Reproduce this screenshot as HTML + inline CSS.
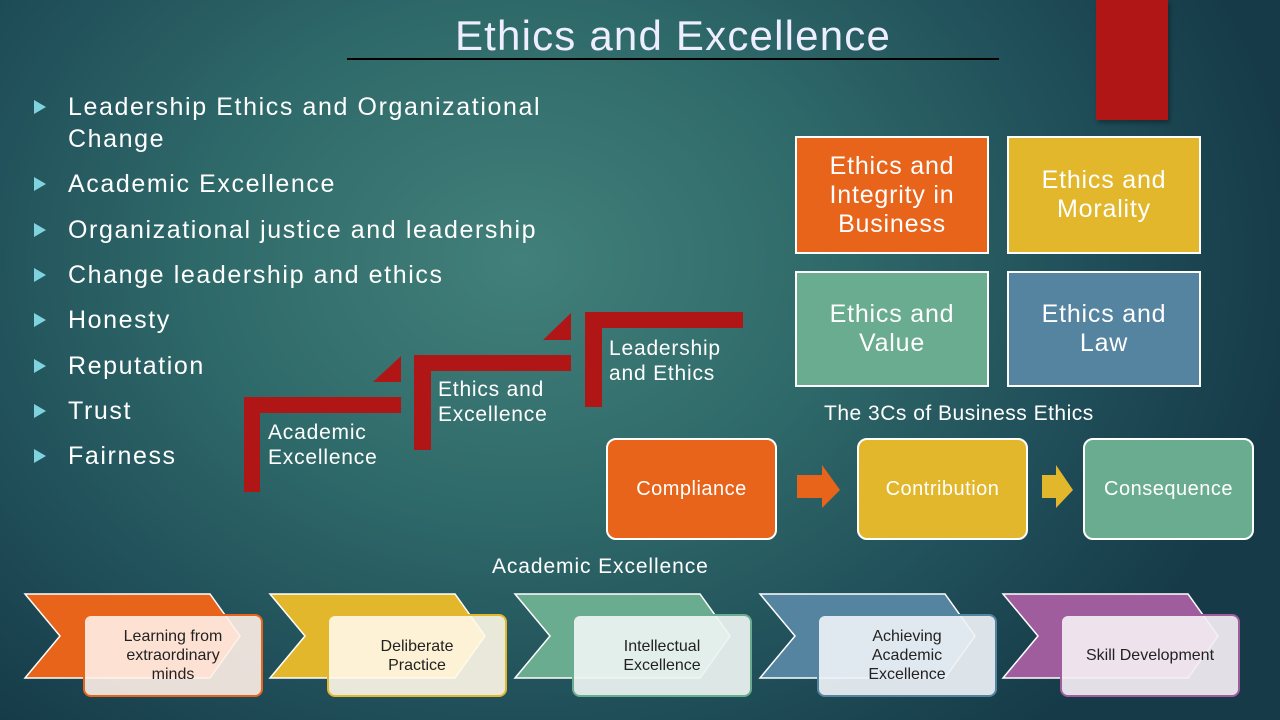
<!DOCTYPE html>
<html><head><meta charset="utf-8"><style>
*{margin:0;padding:0;box-sizing:border-box}
body{width:1280px;height:720px;overflow:hidden;font-family:"Liberation Sans",sans-serif;color:#fff;position:relative;
background:radial-gradient(ellipse 780px 620px at 520px 260px,#42807a 0%,#2f6a6a 40%,#1f4d58 75%,#163a48 100%)}
.a{position:absolute}
.box{position:absolute;border:2px solid #fff;display:flex;align-items:center;justify-content:center;text-align:center;font-size:25px;line-height:29px;letter-spacing:.8px}
.bul{position:absolute;left:34px;font-size:25px;line-height:32px;letter-spacing:1.6px}
.bul span.t{position:absolute;left:0;top:9px;width:0;height:0;border-top:7px solid transparent;border-bottom:7px solid transparent;border-left:12px solid #7fd3df}
.bul div{margin-left:34px}
.c3{position:absolute;border:2px solid #fff;border-radius:10px;display:flex;align-items:center;justify-content:center;font-size:20px;top:438px;height:102px;width:171px;letter-spacing:.5px}
.lbl{position:absolute;border-radius:8px;border:2px solid;display:flex;align-items:center;justify-content:center;text-align:center;font-size:16px;line-height:19px;color:#222;width:180px;height:83px;top:614px}
.st{font-size:21px;line-height:25px;letter-spacing:.8px}
</style></head><body>
<div class="a" style="left:348px;top:12px;width:650px;text-align:center;font-size:42px;color:#eef;letter-spacing:1.2px">Ethics and Excellence</div>
<div class="a" style="left:347px;top:58px;width:652px;height:2px;background:#000"></div>
<div class="a" style="left:1096px;top:0;width:72px;height:120px;background:#b01616;box-shadow:2px 3px 4px rgba(0,0,0,.3)"></div>

<div>
<div class="bul" style="top:91px"><span class="t"></span><div>Leadership Ethics and Organizational<br>Change</div></div>
<div class="bul" style="top:168px"><span class="t"></span><div>Academic Excellence</div></div>
<div class="bul" style="top:214px"><span class="t"></span><div>Organizational justice and leadership</div></div>
<div class="bul" style="top:259px"><span class="t"></span><div>Change leadership and ethics</div></div>
<div class="bul" style="top:304px"><span class="t"></span><div>Honesty</div></div>
<div class="bul" style="top:350px"><span class="t"></span><div>Reputation</div></div>
<div class="bul" style="top:395px"><span class="t"></span><div>Trust</div></div>
<div class="bul" style="top:440px"><span class="t"></span><div>Fairness</div></div>
</div>

<svg class="a" style="left:0;top:0" width="1280" height="720">
<g fill="#b01616">
<path d="M244 397H401V413H260V492H244Z"/><path d="M373 382L401 356V382Z"/>
<path d="M414 355H571V371H431V450H414Z"/><path d="M543 340L571 313V340Z"/>
<path d="M585 312H743V328H602V407H585Z"/>
</g>
<path d="M797 475H822V465L840 490L822 508V498H797Z" fill="#e8641a"/>
<path d="M1042 475H1056V465L1073 490L1056 508V498H1042Z" fill="#e3b72b"/>
<g stroke="#fff" stroke-width="1.5">
<path d="M25 594H210L240 636L210 678H25L60 636Z" fill="#e8641a"/>
<path d="M270 594H455L485 636L455 678H270L305 636Z" fill="#e3b72b"/>
<path d="M515 594H700L730 636L700 678H515L550 636Z" fill="#6aac8f"/>
<path d="M760 594H945L975 636L945 678H760L795 636Z" fill="#5584a0"/>
<path d="M1003 594H1188L1218 636L1188 678H1003L1038 636Z" fill="#a05d9e"/>
</g>
</svg>
<div class="a st" style="left:268px;top:420px">Academic<br>Excellence</div>
<div class="a st" style="left:438px;top:377px">Ethics and<br>Excellence</div>
<div class="a st" style="left:609px;top:336px">Leadership<br>and Ethics</div>

<div class="box" style="left:795px;top:136px;width:194px;height:118px;background:#e8641a">Ethics and<br>Integrity in<br>Business</div>
<div class="box" style="left:1007px;top:136px;width:194px;height:118px;background:#e3b72b">Ethics and<br>Morality</div>
<div class="box" style="left:795px;top:271px;width:194px;height:116px;background:#6aac8f">Ethics and<br>Value</div>
<div class="box" style="left:1007px;top:271px;width:194px;height:116px;background:#5584a0">Ethics and<br>Law</div>

<div class="a" style="left:824px;top:402px;font-size:21px;letter-spacing:.5px">The 3Cs of Business Ethics</div>
<div class="c3" style="left:606px;background:#e8641a">Compliance</div>
<div class="c3" style="left:857px;background:#e3b72b">Contribution</div>
<div class="c3" style="left:1083px;background:#6aac8f">Consequence</div>

<div class="a" style="left:492px;top:555px;font-size:21px;letter-spacing:.9px">Academic Excellence</div>
<div class="lbl" style="left:83px;border-color:#e8641a;background:rgba(255,240,232,.9)">Learning from<br>extraordinary<br>minds</div>
<div class="lbl" style="left:327px;border-color:#e3b72b;background:rgba(255,248,232,.9)">Deliberate<br>Practice</div>
<div class="lbl" style="left:572px;border-color:#6aac8f;background:rgba(238,244,242,.92)">Intellectual<br>Excellence</div>
<div class="lbl" style="left:817px;border-color:#5584a0;background:rgba(238,242,246,.92)">Achieving<br>Academic<br>Excellence</div>
<div class="lbl" style="left:1060px;border-color:#a05d9e;background:rgba(244,238,244,.92)">Skill Development</div>
</body></html>
